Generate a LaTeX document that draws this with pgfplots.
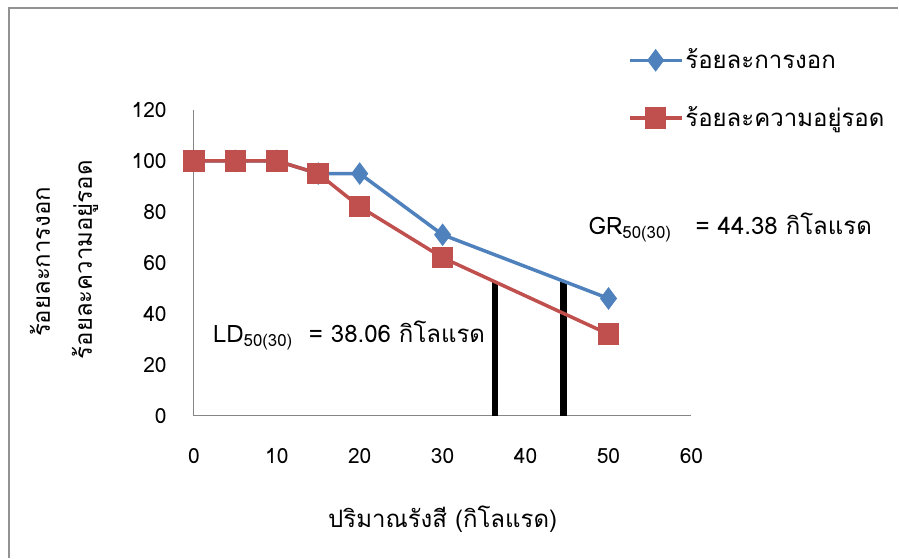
\documentclass[border=0pt]{standalone}
\usepackage{pgfplots}
\pgfplotsset{compat=1.18}
\usepackage{fontspec}
\setmainfont[Script=Thai]{Loma}
\definecolor{xlblue}{HTML}{4F81BD}
\definecolor{xlred}{HTML}{C0504D}
\definecolor{axgray}{HTML}{868686}
\begin{document}
\fontsize{24}{29}\selectfont
\begin{tikzpicture}
  % page frame, pixel grid 899 x 558
  \path (0pt,0pt) rectangle (899pt,558pt);
  \draw[axgray!90, line width=1.5pt] (9pt,0pt) -- (9pt,550pt) -- (899pt,550pt);
  \begin{axis}[
    at={(194pt,142pt)}, anchor=south west,
    scale only axis, width=498pt, height=306pt,
    xmin=0, xmax=60, ymin=0, ymax=120,
    xtick={0,10,...,60}, ytick={0,20,...,120},
    axis x line=bottom, axis y line=left,
    axis line style={draw=axgray, line width=1pt, -},
    major tick length=0pt,
    /pgf/number format/assume math mode=true,
    ticklabel style={font=\fontsize{21}{25}\selectfont},
    xticklabel style={yshift=-25pt},
    yticklabel style={xshift=-19pt},
    clip=false,
    legend style={at={(axis description cs:0.872,1.208)}, anchor=north west,
      draw=none, fill=none, inner sep=0pt, row sep=30pt,
      font=\fontsize{24}{29}\selectfont},
    legend cell align=left,
    legend image code/.code={\draw[mark repeat=2,mark phase=2,#1]
      plot coordinates {(0pt,0pt) (26pt,0pt) (52pt,0pt)};},
  ]
    % LD50 / GR50 markers
    \addplot[black, line width=6.5pt, forget plot] coordinates {(36.3,0) (36.3,52.5)};
    \addplot[black, line width=6.5pt, forget plot] coordinates {(44.6,0) (44.6,53)};

    \addplot[xlblue, line width=3.5pt, mark=diamond*, mark size=8.5pt, mark options={solid}]
      coordinates {(0,100) (5,100) (10,100) (15,95) (20,95) (30,71) (50,46)};
    \addlegendentry{ร้อยละการงอก}
    \addplot[xlred, line width=3.5pt, mark=square*, mark size=9pt, mark options={solid}]
      coordinates {(0,100) (5,100) (10,100) (15,95) (20,82) (30,62) (50,32)};
    \addlegendentry{ร้อยละความอยู่รอด}
  \end{axis}
  \node[anchor=west, inner sep=0pt] at (589pt,330pt)
    {GR\textsubscript{50(30)}\ \ \ = 44.38 กิโลแรด};
  \node[anchor=west, inner sep=0pt] at (213pt,222pt)
    {LD\textsubscript{50(30)}\ \ = 38.06 กิโลแรด};
  \node at (443pt,38pt) {ปริมาณรังสี (กิโลแรด)};
  \node[rotate=90] at (40pt,296pt) {ร้อยละการงอก};
  \node[rotate=90] at (85pt,298pt) {ร้อยละความอยู่รอด};
\end{tikzpicture}
\end{document}
